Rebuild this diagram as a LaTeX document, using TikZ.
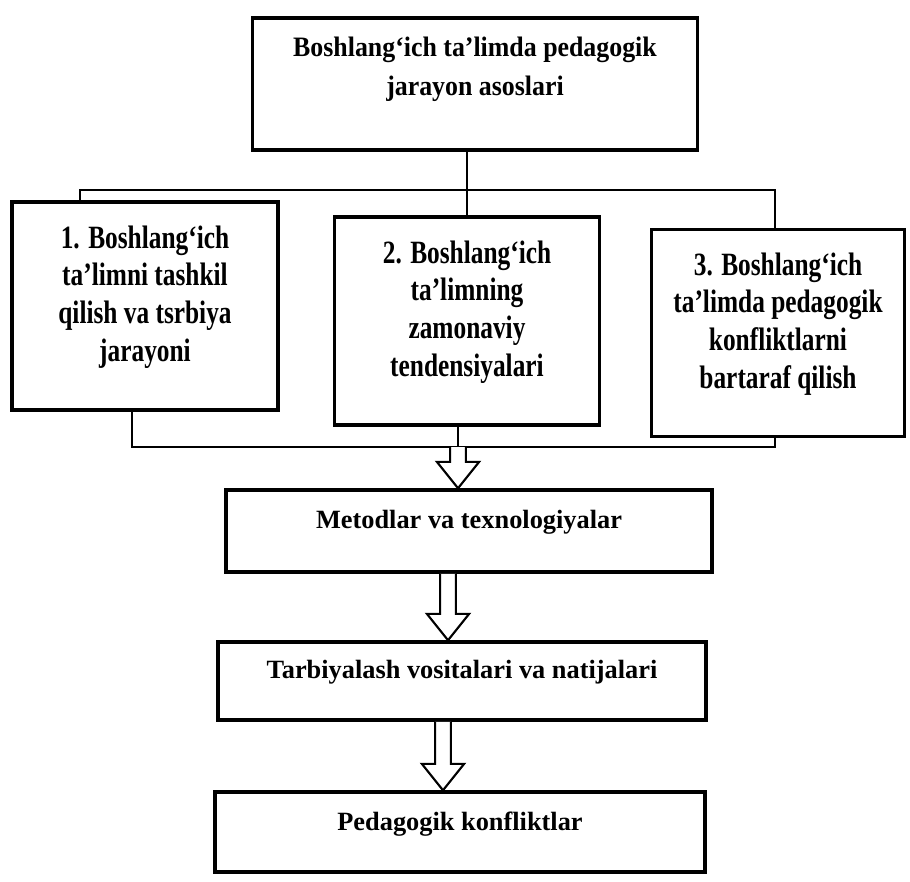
\documentclass[tikz,border=0pt]{standalone}
\usepackage{fontspec}
\setmainfont{Liberation Serif}
\newfontfamily\narrowserif{Liberation Serif}[FakeStretch=0.78]
\newfontfamily\titleserif{Liberation Serif}[FakeStretch=0.92]
\usetikzlibrary{calc}
\newcommand{\fatarrow}[3]{%
  \draw[line width=1.2pt,fill=white] let \p1=(#1,0), \p2=(#2), \p3=(#3) in
    (\x1-4.5pt,\y2) -- (\x1-4.5pt,\y3+15pt) -- (\x1-12pt,\y3+15pt) -- (\x1,\y3)
    -- (\x1+12pt,\y3+15pt) -- (\x1+4.5pt,\y3+15pt) -- (\x1+4.5pt,\y2);}
\begin{document}
\begin{tikzpicture}[x=0.02cm,y=-0.02cm]
    \tikzstyle{block} = [draw,line width=2pt,align=center,inner sep=2pt,font=\fontsize{15}{18}\selectfont\bfseries]
    \tikzstyle{midblock} = [block,text depth=0.5cm,font=\narrowserif\fontsize{18.5}{21.5}\selectfont\bfseries]
    \tikzstyle{link} = [line width=1pt]
        \useasboundingbox (0,0) rectangle (910,882);
        \node[block,minimum width=8.9cm,minimum height=2.65cm,text depth=0.7cm,font=\titleserif\fontsize{16}{22}\selectfont\bfseries] (top) at (475,84) {Boshlang‘ich ta’limda pedagogik\\jarayon asoslari};
        \node[midblock,minimum width=5.32cm,minimum height=4.16cm] (b1) at (145,306) {1. Boshlang‘ich\\ta’limni tashkil\\qilish va tsrbiya\\jarayoni};
        \node[midblock,minimum width=5.3cm,minimum height=4.16cm] (b2) at (467,321) {2. Boshlang‘ich\\ta’limning\\zamonaviy\\tendensiyalari};
        \node[midblock,minimum width=5.06cm,minimum height=4.14cm] (b3) at (778,333) {3. Boshlang‘ich\\ta’limda pedagogik\\konfliktlarni\\bartaraf qilish};
        \node[block,minimum width=9.72cm,minimum height=1.64cm,text depth=0.45cm] (m1) at (469,531) {Metodlar va texnologiyalar};
        \node[block,minimum width=9.76cm,minimum height=1.56cm,text depth=0.45cm] (m2) at (462,681) {Tarbiyalash vositalari va natijalari};
        \node[block,minimum width=9.8cm,minimum height=1.6cm,text depth=0.45cm] (m3) at (460,832) {Pedagogik konfliktlar};
        \coordinate (ul) at (80,190);
        \coordinate (ur) at (775,190);
        \coordinate (ll) at (132,447);
        \coordinate (lr) at (775,447);
        \coordinate (lm) at (458,447);
        \draw[link] (top.south -| b2.north) -- (b2.north);
        \draw[link] (b1.north -| ul) -- (ul) -- (ur) -- (b3.north -| ur);
        \draw[link] (b1.south -| ll) -- (ll) -- (lr) -- (b3.south -| lr);
        \draw[link] (b2.south -| lm) -- (lm);
        \fatarrow{458}{lm}{m1.north}
        \fatarrow{448}{m1.south}{m2.north}
        \fatarrow{443}{m2.south}{m3.north}
    \end{tikzpicture}
\end{document}
